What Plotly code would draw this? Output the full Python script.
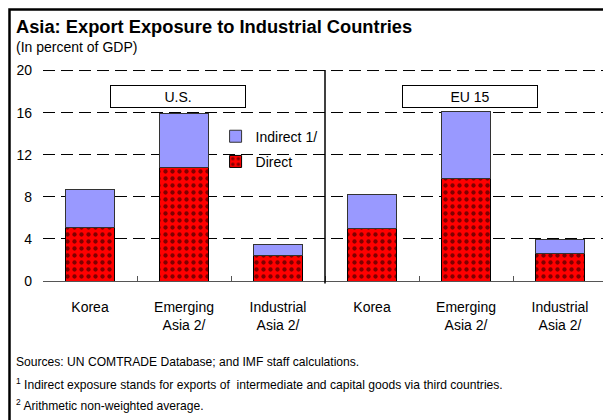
import plotly.graph_objects as go

# ---- data ----
regions = ["U.S.", "EU 15"]
groups = ["Korea", "Emerging<br>Asia 2/", "Industrial<br>Asia 2/"]
direct_us = [5.1, 10.8, 2.4]
indirect_us = [3.6, 5.1, 1.1]
direct_eu = [5.0, 9.7, 2.6]
indirect_eu = [3.2, 6.4, 1.3]
y_ticks = [0, 4, 8, 12, 16, 20]

labels = groups + groups
direct = direct_us + direct_eu
indirect = indirect_us + indirect_eu
xpos = list(range(len(labels)))

FONT = "Liberation Sans, Arial, sans-serif"

fig = go.Figure()
fig.add_trace(go.Bar(
    x=xpos, y=direct, name="Direct", width=0.52,
    marker=dict(color="#FF0000", line=dict(color="#000000", width=1),
                pattern=dict(shape=".", fgcolor="#000000", bgcolor="#FF0000",
                             size=7, solidity=0.3, fillmode="overlay")),
    legendgroup="d", legendrank=2,
))
fig.add_trace(go.Bar(
    x=xpos, y=indirect, name="Indirect 1/", width=0.52,
    marker=dict(color="#9999FF", line=dict(color="#333333", width=1)),
    legendgroup="i", legendrank=1,
))

fig.update_layout(
    width=603, height=412,
    barmode="stack",
    paper_bgcolor="white", plot_bgcolor="white",
    margin=dict(l=35, r=4, t=62, b=139),
    font=dict(family=FONT, size=14, color="black"),
    showlegend=True,
    legend=dict(x=0.306, y=0.76, xanchor="left", yanchor="top",
                traceorder="grouped", tracegroupgap=4,
                bgcolor="rgba(0,0,0,0)", font=dict(size=14, family=FONT)),
    xaxis=dict(range=[-0.5, 5.5], tickmode="array", tickvals=xpos, ticktext=labels,
               ticks="", showgrid=False, zeroline=False,
               showline=True, linecolor="#555555", linewidth=1,
               ticklabelstandoff=13, tickfont=dict(size=14),
               minor=dict(tickvals=[0.5, 1.5, 2.5, 3.5, 4.5], ticks="inside",
                          ticklen=5, tickcolor="#555555", tickwidth=1, showgrid=False)),
    yaxis=dict(range=[0, 20.05], tickmode="array", tickvals=y_ticks,
               showgrid=True, gridcolor="#000000", gridwidth=1, griddash="12px,6px",
               zeroline=False, showline=False, ticks="", tickfont=dict(size=14),
               ticklabelstandoff=10),
    bargap=0.48,
)

# top gridline (plotly skips the grid at the plot edge)
fig.add_shape(type="line", xref="paper", yref="y", x0=0, x1=1, y0=y_ticks[-1], y1=y_ticks[-1],
              line=dict(color="#000000", width=1, dash="12px,6px"), layer="below")

# divider between panels
fig.add_shape(type="line", xref="x", yref="paper", x0=2.5, x1=2.5, y0=-0.012, y1=1,
              line=dict(color="#000000", width=1.5))

# outer border (left & top visible)
fig.add_shape(type="rect", xref="paper", yref="paper",
              x0=-0.0594, x1=1.03, y0=-0.70, y1=1.287,
              line=dict(color="#000000", width=2.5), layer="above")

# panel labels
for xc, txt in zip([0.94, 4.04], regions):
    fig.add_annotation(xref="x", yref="paper", x=xc, y=0.931, text=txt,
                       showarrow=False, width=132, height=19,
                       bordercolor="#000000", borderwidth=1, bgcolor="white",
                       font=dict(size=14, family=FONT))

# titles
fig.add_annotation(xref="paper", yref="paper", x=-0.052, y=1.204, xanchor="left", yanchor="middle",
                   text="<b>Asia: Export Exposure to Industrial Countries</b>", showarrow=False,
                   font=dict(size=18.3, family=FONT))
fig.add_annotation(xref="paper", yref="paper", x=-0.052, y=1.109, xanchor="left", yanchor="middle",
                   text="(In percent of GDP)", showarrow=False,
                   font=dict(size=14, family=FONT))

# footnotes
notes = [
    ("Sources: UN COMTRADE Database; and IMF staff calculations.", 362),
    ("<sup>1</sup> Indirect exposure stands for exports of  intermediate and capital goods via third countries.", 384),
    ("<sup>2</sup> Arithmetic non-weighted average.", 405),
]
for txt, py in notes:
    fig.add_annotation(xref="paper", yref="paper", x=-0.052, y=1 - (py - 70) / 211,
                       xanchor="left", yanchor="middle", text=txt, showarrow=False,
                       font=dict(size=12.1, family=FONT))

fig.write_html("out.html")
